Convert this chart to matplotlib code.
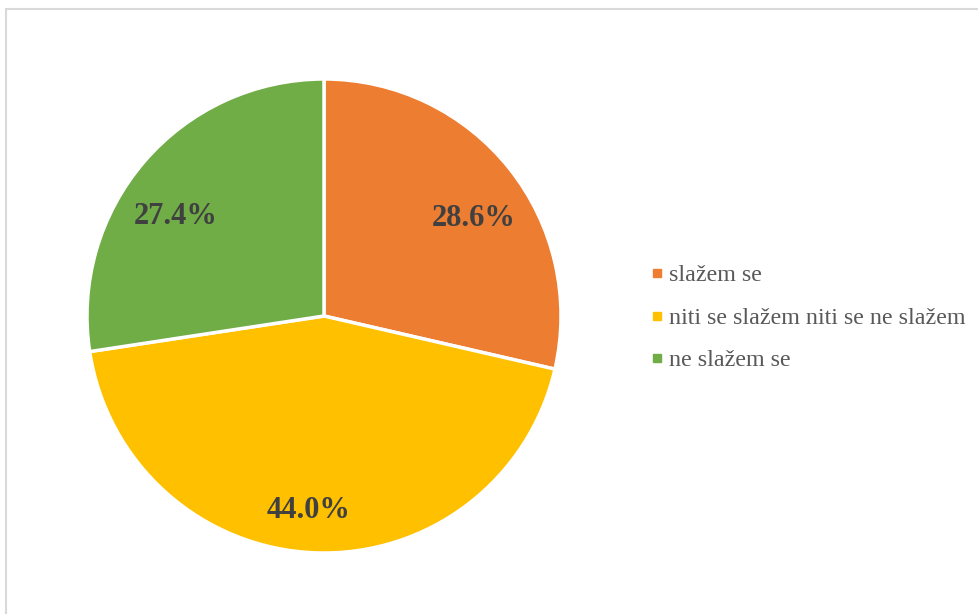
import matplotlib
matplotlib.use("Agg")
import matplotlib.pyplot as plt
from matplotlib.patches import Rectangle
from matplotlib.lines import Line2D

categories = ["slažem se", "niti se slažem niti se ne slažem", "ne slažem se"]
values = [28.6, 44.0, 27.4]
colors = ["#ED7D31", "#FFC000", "#70AD47"]

plt.rcParams['font.family'] = ['Liberation Serif', 'DejaVu Serif']

fig = plt.figure(figsize=(9.79, 6.14), dpi=100)
fig.patches.append(Rectangle((6.5/979, -0.1), 1.2, 1.1 - 9.5/614, transform=fig.transFigure,
                             fill=False, edgecolor="#D9D9D9", linewidth=1.5))

ax = fig.add_axes([87/979, 61/614, 474/979, 474/614])
wedges, texts, autotexts = ax.pie(values, colors=colors, startangle=90, counterclock=False,
                                  autopct='%1.1f%%', pctdistance=0.78, radius=1,
                                  wedgeprops=dict(edgecolor='white', linewidth=2.5),
                                  textprops=dict(fontsize=22, fontweight='bold', color='#404040'))
# small label nudges (in axes-data units) to mimic the original placement
nudges = [(0.02, -0.073), (-0.035, -0.043), (-0.035, -0.09)]
for t, (dx, dy) in zip(autotexts, nudges):
    x, y = t.get_position()
    t.set_position((x + dx, y + dy))
ax.set_xlim(-1, 1)
ax.set_ylim(-1, 1)
ax.set_aspect('auto')
ax.axis('off')

handles = [Line2D([0], [0], marker='s', linestyle='none', markersize=6,
                  markerfacecolor=c, markeredgecolor=c) for c in colors]
fig.legend(handles, categories, loc='center left', bbox_to_anchor=(650/979, 1 - 318/614),
           frameon=False, fontsize=17.3, labelcolor='#595959', handlelength=0.6,
           handletextpad=0.2, labelspacing=0.86, borderpad=0, borderaxespad=0)

fig.savefig("out.png", dpi=100)
